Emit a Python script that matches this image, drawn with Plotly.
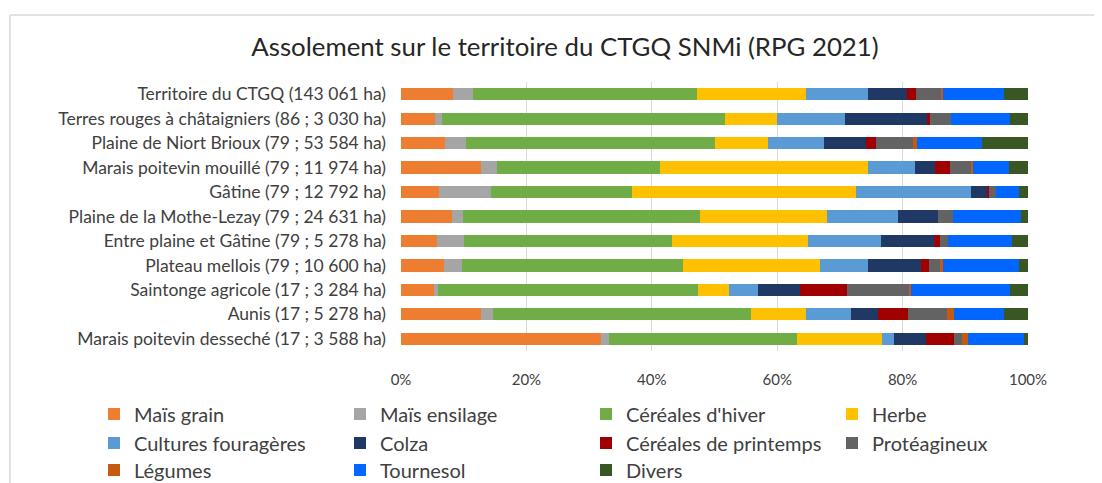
import plotly.graph_objects as go

# Territories (top to bottom as shown)
territories = [
    "Territoire du CTGQ (143 061 ha)",
    "Terres rouges à châtaigniers (86 ; 3 030 ha)",
    "Plaine de Niort Brioux (79 ; 53 584 ha)",
    "Marais poitevin mouillé (79 ; 11 974 ha)",
    "Gâtine (79 ; 12 792 ha)",
    "Plaine de la Mothe-Lezay (79 ; 24 631 ha)",
    "Entre plaine et Gâtine (79 ; 5 278 ha)",
    "Plateau mellois (79 ; 10 600 ha)",
    "Saintonge agricole (17 ; 3 284 ha)",
    "Aunis (17 ; 5 278 ha)",
    "Marais poitevin desseché (17 ; 3 588 ha)",
]

# Share of area (%) per crop, one value per territory
mais_grain = [8.35, 5.4, 7.0, 12.7, 6.0, 8.2, 5.7, 6.9, 5.3, 12.7, 31.9]
mais_ensilage = [3.15, 1.1, 3.3, 2.6, 8.4, 1.7, 4.3, 2.8, 0.6, 1.9, 1.3]
cereales_hiver = [35.7, 45.2, 39.8, 26.0, 22.4, 37.8, 33.2, 35.3, 41.5, 41.2, 30.0]
herbe = [17.4, 8.2, 8.4, 33.2, 35.7, 20.3, 21.7, 21.9, 4.9, 8.8, 13.5]
cultures_fourrageres = [9.9, 10.9, 9.0, 7.4, 18.4, 11.3, 11.7, 7.6, 4.6, 7.1, 2.0]
colza = [6.2, 13.2, 6.6, 3.3, 2.5, 6.3, 8.4, 8.4, 6.7, 4.3, 5.0]
cereales_printemps = [1.5, 0.3, 1.7, 2.4, 0.4, 0.0, 0.9, 1.3, 7.6, 4.8, 4.5]
proteagineux = [4.0, 3.4, 5.9, 3.3, 1.1, 2.5, 1.3, 1.8, 9.8, 6.3, 1.2]
legumes = [0.3, 0.0, 0.6, 0.4, 0.0, 0.0, 0.0, 0.4, 0.4, 1.1, 1.1]
tournesol = [9.6, 9.5, 10.4, 5.7, 3.7, 10.8, 10.2, 12.2, 15.8, 8.0, 8.8]
divers = [3.9, 2.8, 7.3, 3.0, 1.4, 1.1, 2.6, 1.4, 2.8, 3.8, 0.7]

x_ticks = [0, 20, 40, 60, 80, 100]
x_tick_labels = ["0%", "20%", "40%", "60%", "80%", "100%"]

series = [
    ("Maïs grain", mais_grain, "#ED7D31", "legend"),
    ("Maïs ensilage", mais_ensilage, "#A5A5A5", "legend"),
    ("Céréales d'hiver", cereales_hiver, "#70AD47", "legend"),
    ("Herbe", herbe, "#FFC000", "legend"),
    ("Cultures fouragères", cultures_fourrageres, "#5B9BD5", "legend2"),
    ("Colza", colza, "#203864", "legend2"),
    ("Céréales de printemps", cereales_printemps, "#A00000", "legend2"),
    ("Protéagineux", proteagineux, "#636363", "legend2"),
    ("Légumes", legumes, "#C55A11", "legend3"),
    ("Tournesol", tournesol, "#0066FF", "legend3"),
    ("Divers", divers, "#385723", "legend3"),
]

FONT = "Lato, 'Open Sans', sans-serif"
TEXT = "#404040"

fig = go.Figure()
for name, vals, color, leg in series:
    fig.add_trace(go.Bar(
        y=territories,
        x=vals,
        name=name,
        orientation="h",
        marker=dict(color=color, line=dict(width=0)),
        legend=leg,
    ))

W, H = 1102, 483
OFF = 8  # page body margin shifts the whole figure by this many pixels
# plot area in screenshot pixels: x 401..1028, y 82..351
ml, mt = 401 - OFF, 82 - OFF
mr, mb = W - 1028 + OFF, H - 351 + OFF
pw, ph = W - ml - mr, H - mt - mb


def px_x(px):
    return (px - OFF - ml) / pw


def px_y(py):
    return (H - mb - (py - OFF)) / ph


legend_common = dict(
    orientation="h",
    entrywidth=201,
    entrywidthmode="pixels",
    itemwidth=30,
    font=dict(family=FONT, size=20, color=TEXT),
    xanchor="left",
    yanchor="middle",
    bgcolor="rgba(0,0,0,0)",
    traceorder="normal",
)

fig.update_layout(
    width=W,
    height=H,
    barmode="stack",
    bargap=0.5,
    plot_bgcolor="white",
    paper_bgcolor="white",
    margin=dict(l=ml, r=mr, t=mt, b=mb, autoexpand=False),
    font=dict(family=FONT, color=TEXT),
    title=dict(
        text="Assolement sur le territoire du CTGQ SNMi (RPG 2021)",
        x=(565 - OFF) / W,
        xanchor="center",
        y=1 - (47 - OFF) / H,
        yanchor="middle",
        font=dict(family=FONT, size=25.8, color="#262626"),
    ),
    xaxis=dict(
        range=[0, 100],
        tickvals=x_ticks,
        ticktext=x_tick_labels,
        showgrid=True,
        gridcolor="#D9D9D9",
        gridwidth=1,
        zeroline=False,
        showline=False,
        ticks="",
        ticklabelstandoff=18,
        tickfont=dict(family=FONT, size=15, color=TEXT),
    ),
    yaxis=dict(
        autorange="reversed",
        showgrid=False,
        showline=False,
        ticks="",
        ticklabelstandoff=14,
        tickfont=dict(family=FONT, size=17.5, color=TEXT),
    ),
    legend=dict(x=px_x(94), y=px_y(414), **legend_common),
    legend2=dict(x=px_x(94), y=px_y(443), **legend_common),
    legend3=dict(x=px_x(94), y=px_y(470), **legend_common),
    shapes=[
        dict(type="line", xref="paper", yref="paper",
             x0=px_x(10), x1=px_x(10), y0=px_y(H + 10), y1=px_y(15),
             line=dict(color="#D9D9D9", width=1.5)),
        dict(type="line", xref="paper", yref="paper",
             x0=px_x(10), x1=px_x(W + 10), y0=px_y(15), y1=px_y(15),
             line=dict(color="#D9D9D9", width=1.5)),
    ],
)

fig.write_html("out.html")
